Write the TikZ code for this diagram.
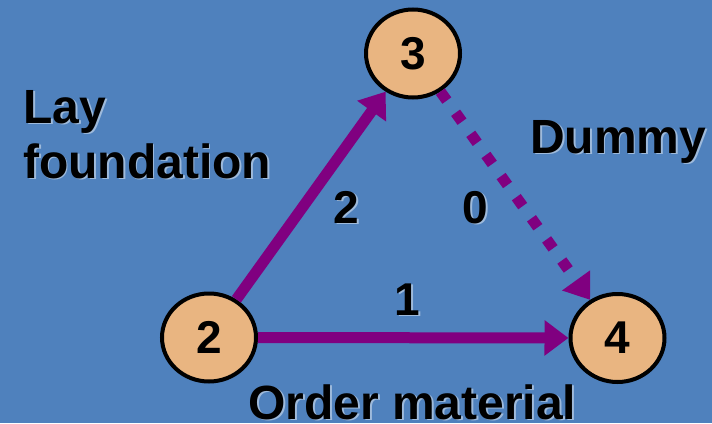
\documentclass[tikz,border=0pt]{standalone}
\usepackage{fontspec}
\setmainfont{Liberation Sans}
\usetikzlibrary{arrows.meta,shapes.geometric}
\definecolor{bgblue}{HTML}{4F81BD}
\definecolor{tan}{HTML}{E9B581}
\definecolor{arrpurple}{HTML}{800080}
\colorlet{shadowc}{bgblue!55!white}
\newcommand\shtext[1]{\rlap{\hspace{1.8pt}\raisebox{-1.8pt}{\textcolor{shadowc}{#1}}}#1}
\begin{document}
\begin{tikzpicture}[x=1pt,y=-1pt,
  font=\fontsize{48}{52}\selectfont\bfseries,
  event/.style={ellipse,draw=black,line width=4pt,fill=tan,minimum width=94pt,minimum height=88pt,inner sep=0pt,font=\fontsize{46}{50}\selectfont\bfseries},
  lbl/.style={inner sep=0pt,anchor=base west,text=black},
  num/.style={inner sep=0pt,anchor=base,text=black,font=\fontsize{46}{50}\selectfont\bfseries},
  arr/.style={draw=arrpurple,line width=11pt,-{Triangle[length=24pt,width=34pt]}},
  dummyarr/.style={draw=arrpurple,line width=11pt,dash pattern=on 11pt off 15pt,-{Triangle[length=24pt,width=33pt]}}
]
\fill[bgblue] (0,0) rectangle (712,423);
\useasboundingbox (0,0) rectangle (712,423);

\node[event] (n2) at (209,337.5) {2};
\node[event] (n3) at (413,53.5) {3};
\node[event] (n4) at (617.5,338) {4};

\draw[arr] (n2) -- (n3);
\draw[arr] (n2) -- (n4);
\draw[dummyarr] (n3) -- (n4);

\node[lbl] (lay) at (23,123) {\shtext{Lay}};
\node[lbl] (found) at (23,178) {\shtext{foundation}};
\node[lbl] (dummy) at (530,153) {\shtext{Dummy}};
\node[lbl] (order) at (248,419) {\shtext{Order material}};
\node[num] (d2) at (346,223) {\shtext{2}};
\node[num] (d0) at (475,223) {\shtext{0}};
\node[num] (d1) at (407,315) {\shtext{1}};
\end{tikzpicture}
\end{document}
